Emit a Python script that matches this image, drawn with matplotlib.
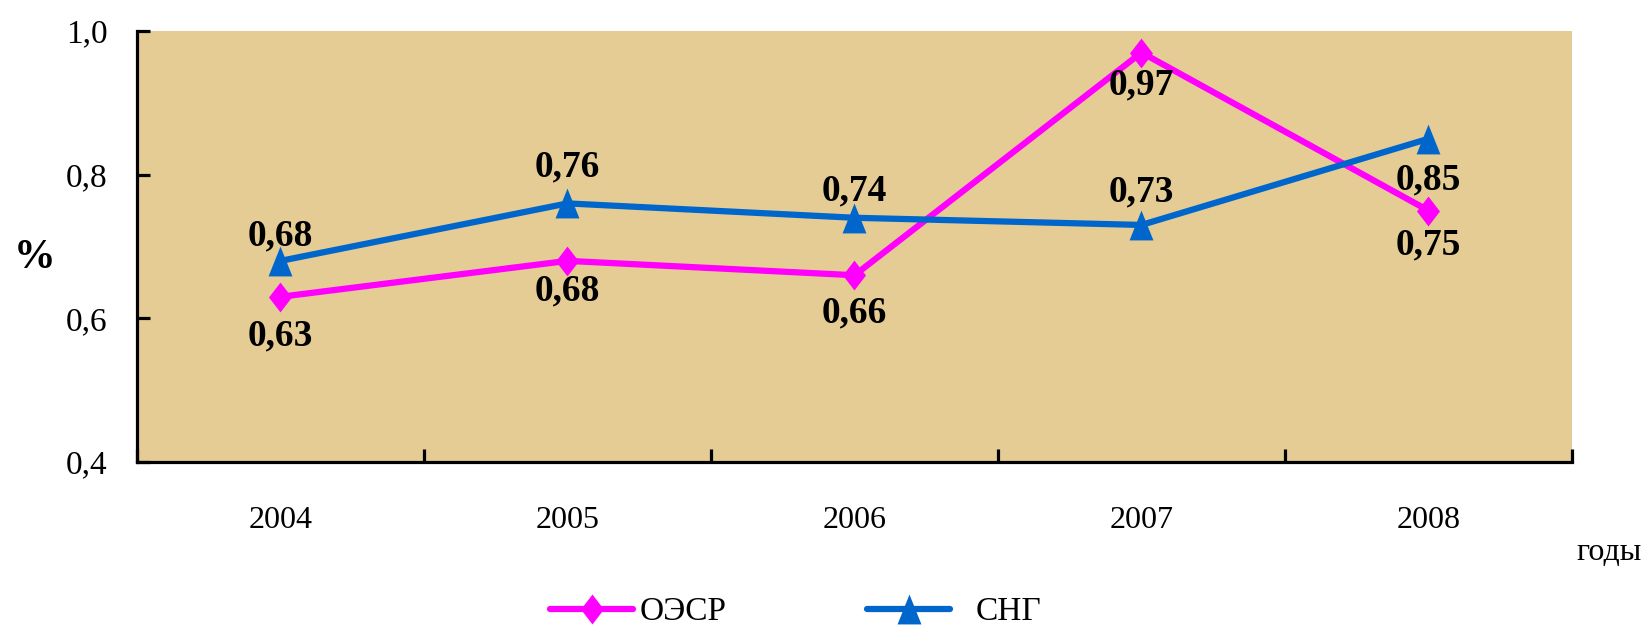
import matplotlib
matplotlib.use("Agg")
import matplotlib.pyplot as plt
from matplotlib.ticker import FixedLocator, FuncFormatter

years = ["2004", "2005", "2006", "2007", "2008"]
oecd = [0.63, 0.68, 0.66, 0.97, 0.75]
cis = [0.68, 0.76, 0.74, 0.73, 0.85]
oecd_label = "ОЭСР"
cis_label = "СНГ"
yticks = [0.4, 0.6, 0.8, 1.0]

plt.rcParams['font.family'] = ['Liberation Serif', 'DejaVu Serif']

W, H = 1649, 631
fig = plt.figure(figsize=(W/100, H/100), dpi=100)
ax = fig.add_axes([137/W, 1-462/H, (1572-137)/W, (462-31)/H])
ax.set_facecolor('#E5CC94')

diamond = [(0, 1), (0.77, 0), (0, -1), (-0.77, 0), (0, 1)]
triangle = [(0, 1), (0.8, -1), (-0.8, -1), (0, 1)]

x = list(range(len(years)))
l1, = ax.plot(x, oecd, color='#FF00FF', lw=4.5, marker=diamond, ms=21.5, mew=0,
              solid_capstyle='round', label=oecd_label, zorder=3)
l2, = ax.plot(x, cis, color='#0066CC', lw=4.5, marker=triangle, ms=21.5, mew=0,
              solid_capstyle='round', label=cis_label, zorder=3)

ax.set_xlim(-0.5, len(years)-0.5)
ax.set_ylim(0.4, 1.0)

# data label offsets (points): negative = below point
oecd_off = [-28, -22, -27, -23, -25]
cis_off = [18, 26, 19, 24, -30]
for i, v in enumerate(oecd):
    ax.annotate(f"{v:.2f}".replace('.', ','), (i, v), xytext=(0, oecd_off[i]),
                textcoords='offset points', ha='center', va='center',
                fontsize=27, fontweight='bold', zorder=4)
for i, v in enumerate(cis):
    ax.annotate(f"{v:.2f}".replace('.', ','), (i, v), xytext=(0, cis_off[i]),
                textcoords='offset points', ha='center', va='center',
                fontsize=27, fontweight='bold', zorder=4)

for s in ['top', 'right']:
    ax.spines[s].set_visible(False)
for s in ['left', 'bottom']:
    ax.spines[s].set_linewidth(2.3)
    ax.spines[s].set_color('black')

ax.yaxis.set_major_locator(FixedLocator(yticks))
ax.yaxis.set_major_formatter(FuncFormatter(lambda v, p: f"{v:.1f}".replace('.', ',')))
ax.tick_params(axis='y', direction='in', length=9.5, width=2.3, pad=21, labelsize=24)

ax.set_xticks([i - 0.5 for i in range(len(years)+1)])
ax.set_xticklabels([])
ax.set_xticks(x, minor=True)
ax.set_xticklabels(years, minor=True)
ax.tick_params(axis='x', which='major', direction='in', length=9.5, width=2.3)
ax.tick_params(axis='x', which='minor', length=0, pad=32, labelsize=23)

fig.text(35/W, 1-258/H, "%", fontsize=30, fontweight='bold', ha='center', va='center')
fig.text(1609/W, 1-552/H, "годы", fontsize=23, ha='center', va='center')

common = dict(frameon=False, fontsize=24, handlelength=2.5, borderpad=0,
              borderaxespad=0, handletextpad=0.2)
fig.legend(handles=[l1], loc='center left', bbox_to_anchor=(550/W, 1-612/H), **common)
common['handletextpad'] = 0.75
fig.legend(handles=[l2], loc='center left', bbox_to_anchor=(867/W, 1-612/H), **common)

fig.savefig("out.png", dpi=100, facecolor='white')
